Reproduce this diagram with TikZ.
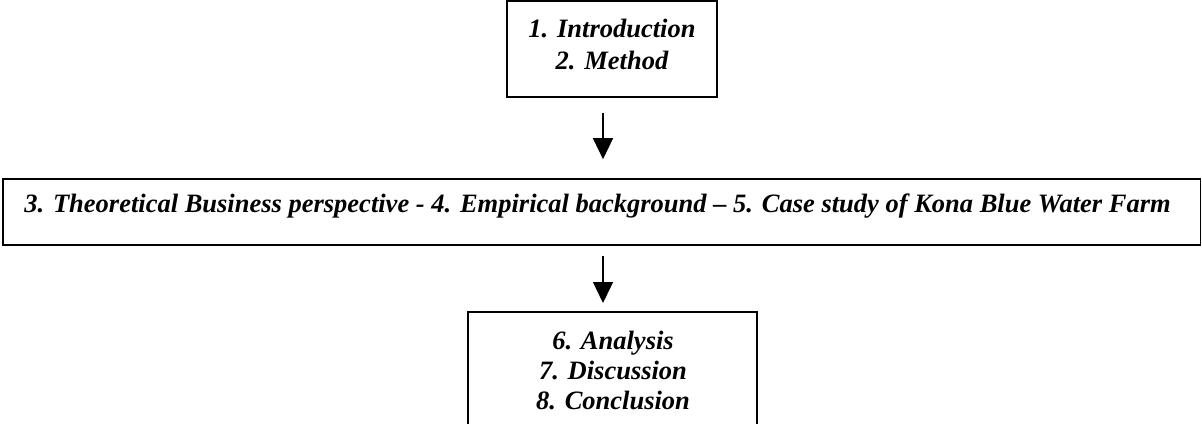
\documentclass[tikz,border=0pt]{standalone}
\usepackage{fontspec}
\setmainfont{Liberation Serif}
\usetikzlibrary{arrows.meta}
\usetikzlibrary{positioning}

\begin{document}
\begin{tikzpicture}[x=1pt,y=-1pt,
	box/.style={draw, line width=1.6pt, inner sep=0pt},
	boxtext/.style={align=center, inner sep=0pt, font=\fontsize{26.5}{32}\selectfont\bfseries\itshape},
	downarrow/.style={line width=1.4pt, -{Triangle[width=20pt,length=21pt]}}]
	\useasboundingbox (0,0) rectangle (1202,423);
	% frames
	\node[box, minimum width=210, minimum height=96] (intro) at (612,49){};
	\node[box, minimum width=1197.5, minimum height=66] (middle) at (601.75,212){};
	\coordinate (resNW) at (468,312);
	\coordinate (resNE) at (757,312);
	% texts
	\node[boxtext] (introtext) at (612,44){1. Introduction\\2. Method};%1-2
	\node[boxtext] (middletext) at (597.5,206){3. Theoretical Business perspective - 4. Empirical background – 5. Case study of Kona Blue Water Farm};%3-5
	\node[boxtext, font=\fontsize{26.5}{30}\selectfont\bfseries\itshape] (result) at (613,370){6. Analysis\\7. Discussion\\8. Conclusion};%6-8
	\draw[line width=1.6pt] (resNW |- 0,424) -- (resNW) -- (resNE) -- (resNE |- 0,424);
	% arrows
	\coordinate (axis) at ([xshift=-9pt]intro.south);
	\draw[downarrow, shorten <=15pt, shorten >=19pt] (axis) -- (axis |- middle.north);
	\draw[downarrow, shorten <=10pt, shorten >=9pt] (axis |- middle.south) -- (axis |- resNW);
	\end{tikzpicture}
\end{document}
